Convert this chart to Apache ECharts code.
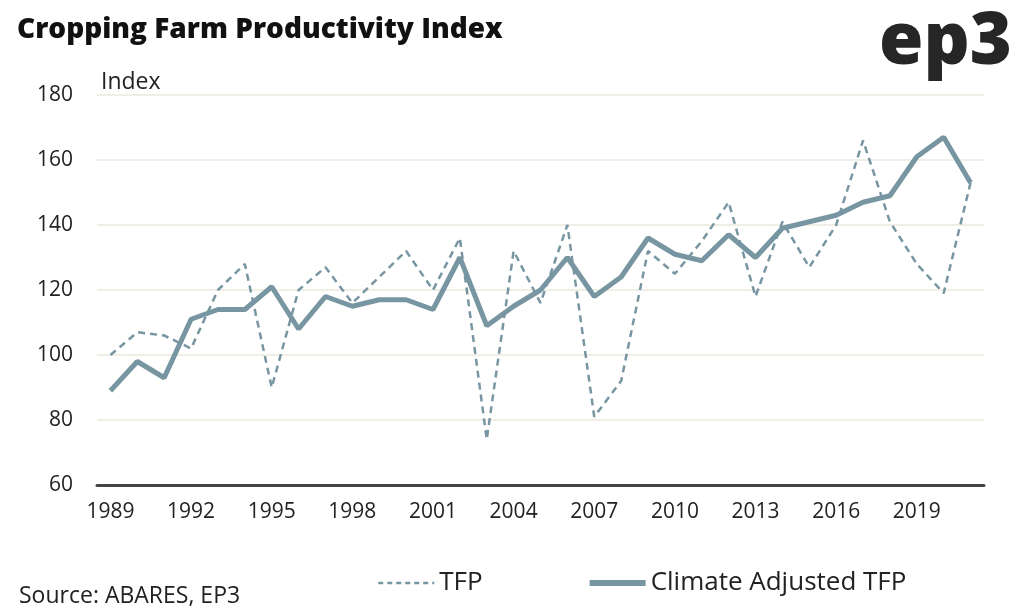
<!DOCTYPE html>
<html>
<head>
<meta charset="utf-8">
<script src="https://cdn.jsdelivr.net/npm/echarts@6/dist/echarts.min.js"></script>
<style>html,body{margin:0;padding:0;background:#fff}#c{width:1024px;height:615px}</style>
</head>
<body>
<div id="c"></div>
<script>
var years = ['1989','1990','1991','1992','1993','1994','1995','1996','1997','1998','1999','2000','2001','2002','2003','2004','2005','2006','2007','2008','2009','2010','2011','2012','2013','2014','2015','2016','2017','2018','2019','2020','2021'];
var tfp = [100,107,106,102,120,128,90,120,127,116,124,132,120,136,74,132,116,140,81,92,132,125,135,147,118,141,127,140,166,141,128,119,153];
var climateAdjusted = [89,98,93,111,114,114,121,108,118,115,117,117,114,130,109,115,120,130,118,124,136,131,129,137,130,139,141,143,147,149,161,167,153];
var seriesNames = ['TFP','Climate Adjusted TFP'];

var FONT = '"Open Sans", Lato, sans-serif';
var LINE = '#7896a2';
var chart = echarts.init(document.getElementById('c'));
chart.setOption({
  animation: false,
  backgroundColor: '#fff',
  textStyle: {fontFamily: FONT, color: '#222'},
  grid: {left: 97, right: 40, top: 95, bottom: 130, containLabel: false},
  legend: {
    data: [
      {name: seriesNames[0], lineStyle: {width: 2.5, type: [5, 4]}},
      {name: seriesNames[1], lineStyle: {width: 6}}
    ],
    left: 372, top: 565,
    itemWidth: 56, itemHeight: 14, itemGap: 104,
    itemStyle: {opacity: 0},
    textStyle: {fontFamily: FONT, fontSize: 26, color: '#222'}
  },
  graphic: [
    {type: 'text', left: 17, top: 16, style: {text: 'Cropping Farm Productivity Index', font: '800 28px ' + FONT, fill: '#111'}},
    {type: 'text', left: 101, top: 71, style: {text: 'Index', font: '23px ' + FONT, fill: '#222'}},
    {type: 'text', left: 19, top: 585, style: {text: 'Source: ABARES, EP3', font: '23px ' + FONT, fill: '#222'}},
    {type: 'text', right: 12, top: 7, style: {text: 'ep3', font: '800 72px ' + FONT, fill: '#262626'}}
  ],
  xAxis: {
    type: 'category', data: years, boundaryGap: true,
    axisLine: {lineStyle: {color: '#444', width: 3}},
    axisTick: {show: false},
    axisLabel: {interval: 2, fontSize: 21, color: '#222', margin: 17, fontFamily: FONT}
  },
  yAxis: {
    type: 'value', min: 60, max: 180, interval: 20,
    axisLine: {show: false}, axisTick: {show: false},
    axisLabel: {fontSize: 21, color: '#222', margin: 24, fontFamily: FONT},
    splitLine: {lineStyle: {color: '#efefe6', width: 2}}
  },
  series: [
    {name: seriesNames[0], type: 'line', data: tfp, symbol: 'none',
     lineStyle: {color: LINE, width: 2.5, type: [7, 5]}, itemStyle: {color: LINE}},
    {name: seriesNames[1], type: 'line', data: climateAdjusted, symbol: 'none',
     lineStyle: {color: LINE, width: 5}, itemStyle: {color: LINE}}
  ]
});
</script>
</body>
</html>
